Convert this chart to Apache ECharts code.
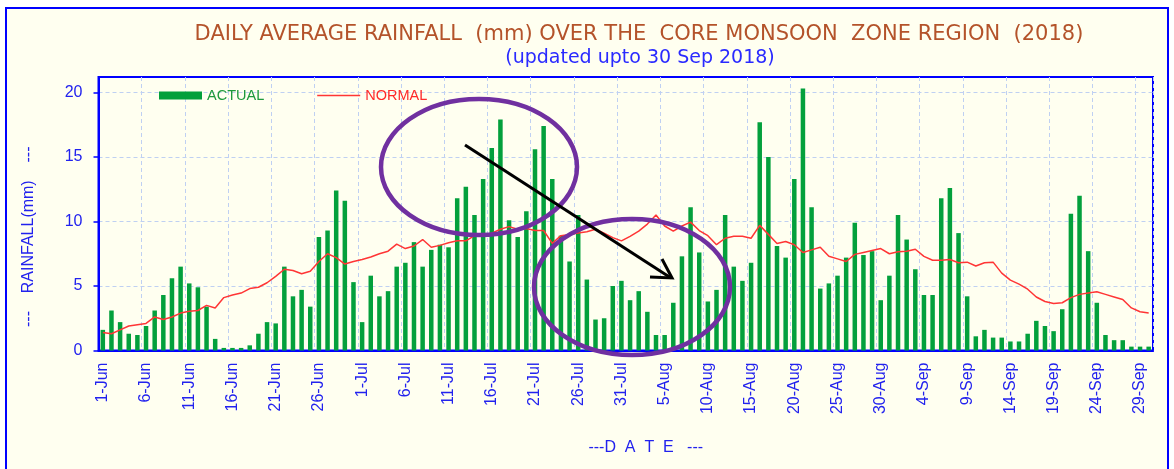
<!DOCTYPE html>
<html>
<head>
<meta charset="utf-8">
<title>Daily average rainfall - core monsoon zone 2018</title>
<script src="https://cdn.jsdelivr.net/npm/echarts@6/dist/echarts.min.js"></script>
<style>
  html, body { margin: 0; padding: 0; background: #fff; }
  #main { width: 1174px; height: 469px; }
</style>
</head>
<body>
<div id="main"></div>
<script>
// dates 1-Jun .. 30-Sep
var monthNames = ['Jun', 'Jul', 'Aug', 'Sep'];
var monthDays = [30, 31, 31, 30];
var dates = [];
for (var m = 0; m < monthNames.length; m++) {
  for (var d = 1; d <= monthDays[m]; d++) {
    dates.push(d + '-' + monthNames[m]);
  }
}

// daily actual rainfall (mm)
var actual = [
  1.6, 3.1, 2.2, 1.3, 1.2, 1.9, 3.1, 4.3, 5.6, 6.5,
  5.2, 4.9, 3.4, 0.9, 0.2, 0.2, 0.2, 0.4, 1.3, 2.2,
  2.1, 6.5, 4.2, 4.7, 3.4, 8.8, 9.3, 12.4, 11.6, 5.3,
  2.2, 5.8, 4.2, 4.6, 6.5, 6.8, 8.4, 6.5, 7.8, 8.2,
  8.0, 11.8, 12.7, 10.5, 13.3, 15.7, 17.9, 10.1, 8.8, 10.8,
  15.6, 17.4, 13.3, 8.9, 6.9, 10.5, 5.5, 2.4, 2.5, 5.0,
  5.4, 3.9, 4.6, 3.0, 1.2, 1.2, 3.7, 7.3, 11.1, 7.6,
  3.8, 4.7, 10.5, 6.5, 5.4, 6.8, 17.7, 15.0, 8.1, 7.2,
  13.3, 20.3, 11.1, 4.8, 5.2, 5.8, 7.2, 9.9, 7.4, 7.7,
  3.9, 5.8, 10.5, 8.6, 6.3, 4.3, 4.3, 11.8, 12.6, 9.1,
  4.2, 1.1, 1.6, 1.0, 1.0, 0.7, 0.7, 1.3, 2.3, 1.9,
  1.5, 3.2, 10.6, 12.0, 7.7, 3.7, 1.2, 0.8, 0.8, 0.3,
  0.3, 0.3
];

// daily normal rainfall (mm)
var normal = [
  1.4, 1.3, 1.6, 1.9, 2.0, 2.1, 2.6, 2.4, 2.6, 2.9,
  3.05, 3.1, 3.5, 3.3, 4.1, 4.3, 4.45, 4.8, 4.9, 5.25,
  5.75, 6.3, 6.2, 5.95, 6.15, 6.9, 7.5, 7.2, 6.7, 6.9,
  7.05, 7.25, 7.5, 7.7, 8.25, 7.9, 8.1, 8.6, 8.0, 8.15,
  8.35, 8.5, 8.5, 8.9, 8.85, 9.1, 9.4, 9.6, 9.4, 9.45,
  9.3, 9.3, 8.3, 8.9, 9.0, 9.1, 9.2, 9.4, 9.1, 8.75,
  8.5, 8.85, 9.25, 9.8, 10.5, 9.65, 9.25, 9.65, 9.95, 9.3,
  8.9, 8.2, 8.7, 8.85, 8.85, 8.7, 9.7, 9.0, 8.3, 8.45,
  8.2, 7.6, 7.8, 8.0, 7.3, 7.1, 6.9, 7.45, 7.6, 7.75,
  7.9, 7.5, 7.65, 7.7, 7.85, 7.3, 7.0, 7.0, 7.05, 6.8,
  6.85, 6.55, 6.8, 6.85, 6.0, 5.45, 5.15, 4.75, 4.15, 3.8,
  3.65, 3.7, 4.1, 4.35, 4.45, 4.55, 4.35, 4.15, 3.95, 3.3,
  3.0, 2.9
];

var yTicks = [0, 5, 10, 15, 20];

var blue = '#0000ff';
var blueText = '#2222ee';
var gridLine = '#bfd0f2';

var chart = echarts.init(document.getElementById('main'));

var option = {
  animation: false,
  backgroundColor: '#ffffff',
  title: [
    {
      text: 'DAILY AVERAGE RAINFALL  (mm) OVER THE  CORE MONSOON  ZONE REGION  (2018)',
      left: 639, top: 24, textAlign: 'center', padding: 0,
      textStyle: { color: '#b4532a', fontSize: 21, fontWeight: 'normal', fontFamily: 'DejaVu Sans' }
    },
    {
      text: '(updated upto 30 Sep 2018)',
      left: 640, top: 49, textAlign: 'center', padding: 0,
      textStyle: { color: '#2a2aff', fontSize: 19, fontWeight: 'normal', fontFamily: 'DejaVu Sans' }
    }
  ],
  legend: {
    left: 159, top: 88, padding: 0,
    itemWidth: 43, itemHeight: 8, itemGap: 53,
    textStyle: { fontSize: 14.5, fontFamily: 'Liberation Sans' },
    data: [
      { name: 'ACTUAL', icon: 'rect', textStyle: { color: '#1e9a3c' } },
      { name: 'NORMAL', icon: 'path://M0,0 H100 V3.5 H0 Z', textStyle: { color: '#ff2a2a' } }
    ]
  },
  grid: {
    left: 98.5, right: 21, top: 77, bottom: 118.5,
    show: true, backgroundColor: '#fffff0',
    borderColor: blue, borderWidth: 2,
    outerBoundsMode: 'none'
  },
  xAxis: {
    type: 'category',
    data: dates,
    boundaryGap: true,
    axisLine: { lineStyle: { color: blue, width: 2 } },
    axisTick: { interval: 4, length: 5, lineStyle: { color: blue, width: 1.5 } },
    axisLabel: { interval: 4, rotate: 90, color: blueText, fontSize: 16, margin: 12, fontFamily: 'Liberation Sans' },
    splitLine: { show: true, interval: 4, lineStyle: { type: [4, 3], color: gridLine, width: 1 } },
    name: '---D  A  T  E   ---',
    nameLocation: 'middle', nameGap: 89,
    nameTextStyle: { color: blueText, fontSize: 16, fontFamily: 'Liberation Sans', padding: [0, 0, 0, 40] }
  },
  yAxis: {
    type: 'value',
    min: 0, max: 21.2, interval: 5,
    axisLine: { show: true, lineStyle: { color: blue, width: 2 } },
    axisTick: { show: true, length: 5, customValues: yTicks, lineStyle: { color: blue, width: 1.5 } },
    axisLabel: { color: blueText, fontSize: 16, margin: 16, customValues: yTicks, fontFamily: 'Liberation Sans' },
    splitLine: { show: true, lineStyle: { type: [4, 3], color: gridLine, width: 1 } },
    name: '---    RAINFALL(mm)    ---',
    nameLocation: 'middle', nameGap: 62,
    nameTextStyle: { color: blueText, fontSize: 16, fontFamily: 'Liberation Sans', padding: [0, 46, 0, 0] }
  },
  series: [
    {
      name: 'ACTUAL', type: 'bar', data: actual,
      barWidth: 4.5,
      itemStyle: { color: '#03a03c' }
    },
    {
      name: 'NORMAL', type: 'line', data: normal,
      symbol: 'none', z: 3,
      lineStyle: { color: '#ff3535', width: 1.5 },
      itemStyle: { color: '#ff3535' }
    }
  ],
  graphic: [
    // outer frame
    { type: 'rect', z: -100, silent: true,
      shape: { x: 6, y: 8, width: 1162, height: 480 },
      style: { fill: '#fffff0', stroke: blue, lineWidth: 2 } },
    // hand-drawn annotations
    { type: 'ellipse', z: 100, silent: true,
      shape: { cx: 479, cy: 167, rx: 98, ry: 68 },
      style: { fill: null, stroke: '#7030a0', lineWidth: 4.5 } },
    { type: 'ellipse', z: 100, silent: true,
      shape: { cx: 632, cy: 287, rx: 98, ry: 68 },
      style: { fill: null, stroke: '#7030a0', lineWidth: 4.5 } },
    { type: 'line', z: 100, silent: true,
      shape: { x1: 465, y1: 145, x2: 671, y2: 278 },
      style: { stroke: '#000', lineWidth: 3 } },
    { type: 'polyline', z: 100, silent: true,
      shape: { points: [[650, 277], [672, 278], [662, 259]] },
      style: { stroke: '#000', lineWidth: 3, fill: null } }
  ]
};

chart.setOption(option);
</script>
</body>
</html>
